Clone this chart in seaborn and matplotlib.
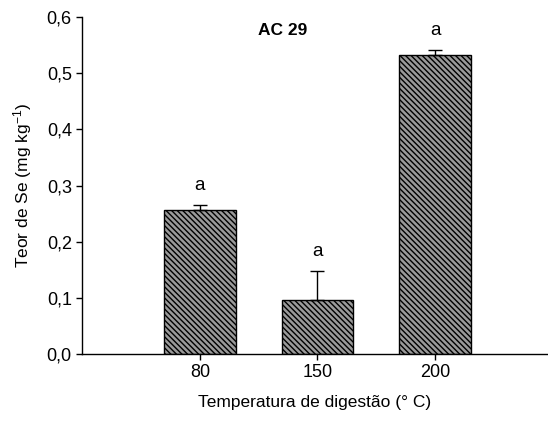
import matplotlib
matplotlib.use("Agg")
import matplotlib.pyplot as plt
import seaborn as sns
import pandas as pd

categories = ["80", "150", "200"]
values = [0.256, 0.096, 0.532]
errors = [0.009, 0.052, 0.009]
letters = ["a", "a", "a"]
yticks = [0.0, 0.1, 0.2, 0.3, 0.4, 0.5, 0.6]
ytick_labels = ["0,0", "0,1", "0,2", "0,3", "0,4", "0,5", "0,6"]

sns.set_style("ticks")
plt.rcParams["font.family"] = ["Liberation Sans", "DejaVu Sans"]
plt.rcParams["mathtext.default"] = "regular"
plt.rcParams["hatch.linewidth"] = 1.0
plt.rcParams["hatch.color"] = "#1a1a1a"
plt.rcParams["text.color"] = "black"
plt.rcParams["axes.labelcolor"] = "black"
plt.rcParams["xtick.color"] = "black"
plt.rcParams["ytick.color"] = "black"

df = pd.DataFrame({"temp": categories, "teor": values})

fig = plt.figure(figsize=(5.48, 4.25), dpi=100)
ax = fig.add_axes([0.15, 0.167, 0.848, 0.793])

sns.barplot(data=df, x="temp", y="teor", ax=ax, color="#9a9a9a",
            width=0.61, edgecolor="black", linewidth=1.0, errorbar=None,
            saturation=1)
for p in ax.patches:
    p.set_hatch("\\\\\\\\\\\\")

ax.errorbar(range(len(categories)), values, yerr=[[0] * len(errors), errors],
            fmt="none", ecolor="black", elinewidth=1.0, capsize=5, capthick=1.0)

for i, (v, e, l) in enumerate(zip(values, errors, letters)):
    ax.text(i, v + e + 0.02, l, ha="center", va="bottom", fontsize=13.5)

ax.text(0.7, 0.576, "AC 29", ha="center", va="center", fontsize=12.5,
        fontweight="bold")

ax.set_xlim(-1.0, 2.95)
ax.set_ylim(0, 0.6)
ax.set_yticks(yticks)
ax.set_yticklabels(ytick_labels)
ax.tick_params(axis="both", labelsize=13, length=4, width=1, direction="out",
               colors="black")
ax.set_xlabel("Temperatura de digestão (° C)", fontsize=12.5, labelpad=10)
ax.set_ylabel("Teor de Se (mg kg$^{-1}$)", fontsize=12.5, labelpad=9)
for s in ["top", "right"]:
    ax.spines[s].set_visible(False)
for s in ["left", "bottom"]:
    ax.spines[s].set_linewidth(1.0)
    ax.spines[s].set_color("black")

fig.savefig("out.png", dpi=100)
